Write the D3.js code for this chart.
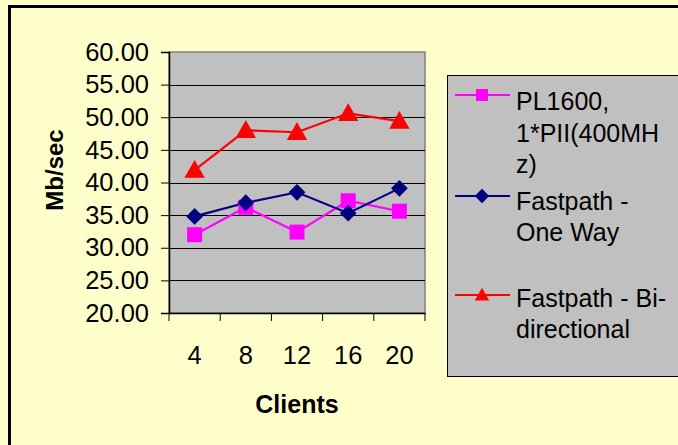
<!DOCTYPE html>
<html><head><meta charset="utf-8">
<script src="https://cdn.jsdelivr.net/npm/d3@7"></script>
<style>body{margin:0;background:#FFFFCC;}svg{display:block;}</style>
</head><body>
<script>
const categories = ["4","8","12","16","20"];
const pl1600 = [32.0, 36.2, 32.4, 37.2, 35.6];
const oneWay = [34.8, 36.9, 38.5, 35.3, 39.1];
const biDir = [41.9, 48.0, 47.7, 50.6, 49.4];
const yTicks = [20,25,30,35,40,45,50,55,60];
const seriesNames = [["PL1600,","1*PII(400MH","z)"],["Fastpath -","One Way"],["Fastpath - Bi-","directional"]];

const W=678,H=445;
const svg=d3.select("body").append("svg").attr("width",W).attr("height",H);
svg.append("rect").attr("width",W).attr("height",H).attr("fill","#FFFFCC");
svg.append("rect").attr("x",9.5).attr("y",6.5).attr("width",720).attr("height",520)
  .attr("fill","none").attr("stroke","#000").attr("stroke-width",3);

const L=169,T=52,R=425,B=313;
const x=d3.scaleBand().domain(categories).range([L,R]).padding(0);
const y=d3.scaleLinear().domain([20,60]).range([B,T]);
const font="Liberation Sans, Arial, sans-serif";

svg.append("rect").attr("x",L).attr("y",T).attr("width",R-L).attr("height",B-T)
  .attr("fill","#C0C0C0").attr("stroke","#808080").attr("stroke-width",1.5);
svg.append("g").selectAll("line").data(yTicks.slice(1,-1)).join("line")
  .attr("x1",L).attr("x2",R).attr("y1",d=>Math.round(y(d))+0.5).attr("y2",d=>Math.round(y(d))+0.5)
  .attr("stroke","#000").attr("stroke-width",1);

const ya=svg.append("g").attr("transform",`translate(${L},0)`)
  .call(d3.axisLeft(y).tickValues(yTicks).tickFormat(d3.format(".2f")).tickSize(8).tickPadding(12));
ya.select(".domain").attr("stroke","#000").attr("stroke-width",1.5);
ya.selectAll(".tick line").attr("stroke","#000");
ya.selectAll("text").attr("font-family",font).attr("font-size",25.5).attr("fill","#000");

const xa=svg.append("g").attr("transform",`translate(0,${B})`)
  .call(d3.axisBottom(x).tickSize(0).tickPadding(33));
xa.select(".domain").attr("stroke","#000").attr("stroke-width",1.5);
xa.selectAll("text").attr("font-family",font).attr("font-size",25.5).attr("fill","#000");
const bounds=categories.map(c=>x(c)).concat([x(categories[categories.length-1])+x.bandwidth()]);
svg.append("g").selectAll("line").data(bounds).join("line")
  .attr("x1",d=>d).attr("x2",d=>d).attr("y1",B).attr("y2",B+8).attr("stroke","#000");

svg.append("text").attr("x",297).attr("y",413).attr("text-anchor","middle")
  .attr("font-family",font).attr("font-weight","bold").attr("font-size",25).text("Clients");
svg.append("text").attr("transform","translate(63,170) rotate(-90)").attr("text-anchor","middle")
  .attr("font-family",font).attr("font-weight","bold").attr("font-size",24).text("Mb/sec");

const series=[
  {vals:pl1600,color:"#FF00FF",shape:"square"},
  {vals:oneWay,color:"#000080",shape:"diamond"},
  {vals:biDir,color:"#FF0000",shape:"triangle"}];
const cx=c=>x(c)+x.bandwidth()/2;
function marker(g,shape,color,px,py,s){
  if(shape==="square") g.append("rect").attr("x",px-s/2).attr("y",py-s/2).attr("width",s).attr("height",s).attr("fill",color);
  else if(shape==="diamond") g.append("path").attr("d",`M${px},${py-s*0.6}L${px+s*0.6},${py}L${px},${py+s*0.6}L${px-s*0.6},${py}Z`).attr("fill",color);
  else g.append("path").attr("d",`M${px},${py-s*0.6}L${px+s*0.6},${py+s*0.45}L${px-s*0.6},${py+s*0.45}Z`).attr("fill",color);
}
const line=d3.line().x((d,i)=>cx(categories[i])).y(d=>y(d));
series.forEach(s=>{
  svg.append("path").datum(s.vals).attr("d",line).attr("fill","none").attr("stroke",s.color).attr("stroke-width",2.2);
});
series.forEach(s=>{
  const g=svg.append("g");
  s.vals.forEach((v,i)=>marker(g,s.shape,s.color,cx(categories[i]),y(v),s.shape==="square"?15:s.shape==="diamond"?14:17));
});

// legend
svg.append("rect").attr("x",447.5).attr("y",75.5).attr("width",260).attr("height",301)
  .attr("fill","#C0C0C0").attr("stroke","#000").attr("stroke-width",1);
const legY=[95,196,295];
const lineY=[[110,142,173],[210,241],[307,338]];
series.forEach((s,i)=>{
  const g=svg.append("g");
  g.append("line").attr("x1",455).attr("x2",510).attr("y1",legY[i]).attr("y2",legY[i]).attr("stroke",s.color).attr("stroke-width",2);
  marker(g,s.shape,s.color,482,legY[i],12);
  seriesNames[i].forEach((t,j)=>{
    g.append("text").attr("x",516).attr("y",lineY[i][j]).attr("font-family",font).attr("font-size",25).text(t);
  });
});
</script>
</body></html>
